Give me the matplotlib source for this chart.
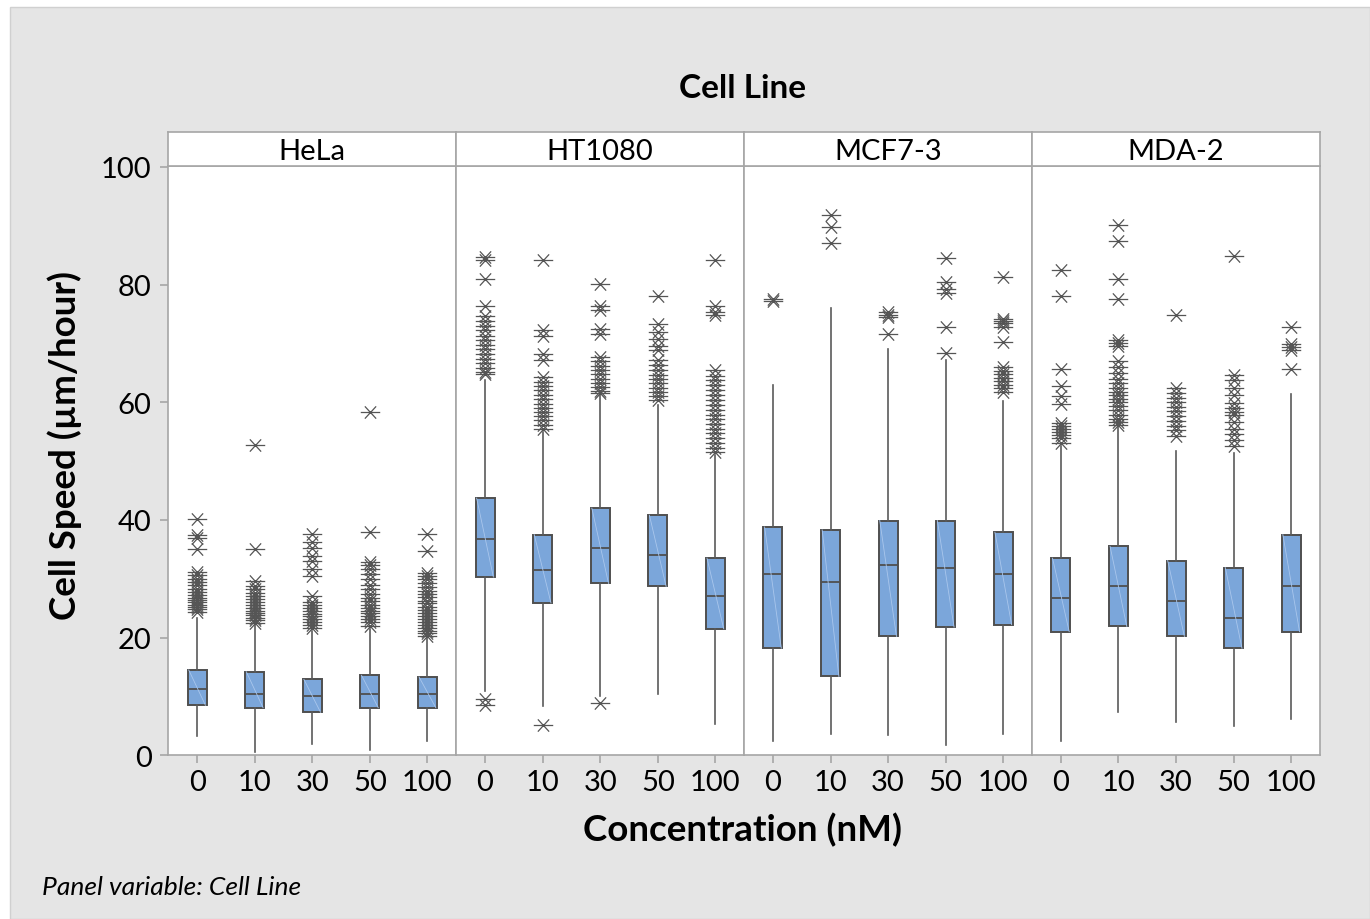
import matplotlib
matplotlib.use("Agg")
import matplotlib.pyplot as plt
from matplotlib.path import Path
from matplotlib.patches import Rectangle

plt.rcParams['font.family'] = ['Lato', 'DejaVu Sans']

# ---------------- data ----------------
cell_lines = ["HeLa", "HT1080", "MCF7-3", "MDA-2"]
concentrations = ["0", "10", "30", "50", "100"]

# per cell line, per concentration
q1 = [[8.5, 8.1, 7.3, 8.1, 8.1],
      [30.3, 25.9, 29.2, 28.7, 21.5],
      [18.2, 13.4, 20.2, 21.8, 22.2],
      [21.0, 21.9, 20.2, 18.2, 21.0]]
median = [[11.3, 10.5, 10.0, 10.5, 10.5],
          [36.8, 31.5, 35.2, 34.0, 27.1],
          [30.8, 29.5, 32.4, 31.9, 30.8],
          [26.7, 28.7, 26.2, 23.4, 28.7]]
q3 = [[14.5, 14.2, 12.9, 13.6, 13.3],
      [43.7, 37.5, 42.0, 40.8, 33.5],
      [38.8, 38.3, 39.9, 39.9, 37.9],
      [33.5, 35.5, 33.1, 31.9, 37.5]]
whisker_low = [[3.3, 0.5, 2.0, 0.9, 2.5],
               [10.9, 8.4, 10.1, 10.5, 5.3],
               [2.5, 3.7, 3.4, 1.7, 3.7],
               [2.4, 7.3, 5.7, 4.9, 6.1]]
whisker_high = [[23.4, 22.2, 21.1, 21.4, 20.0],
                [63.7, 55.0, 61.2, 59.5, 51.0],
                [63.0, 76.0, 69.1, 67.1, 60.2],
                [52.5, 55.8, 51.7, 51.4, 61.4]]

hela_outliers = [
    [40.2, 37.5, 37.0, 35.1, 31.1, 30.6, 30.0, 29.5, 28.9, 28.3, 27.8, 27.3, 26.8, 26.4, 26.0, 25.6, 25.2, 24.8, 24.3],
    [52.7, 35.1, 29.6, 28.8, 28.2, 27.6, 27.0, 26.5, 26.0, 25.5, 25.1, 24.6, 24.2, 23.8, 23.4, 23.0, 22.5],
    [37.6, 36.3, 35.2, 33.9, 33.1, 31.7, 30.4, 27.0, 26.1, 25.5, 25.0, 24.5, 24.0, 23.6, 23.1, 22.6, 22.2, 21.7],
    [58.3, 38.0, 32.9, 32.4, 31.6, 30.8, 29.9, 28.9, 28.2, 27.4, 26.7, 26.2, 25.6, 25.1, 24.6, 24.1, 23.6, 23.1, 22.6, 21.9],
    [37.6, 34.8, 31.0, 30.4, 29.9, 29.2, 28.6, 28.0, 27.4, 26.9, 26.3, 25.8, 25.2, 24.7, 24.2, 23.7, 23.2, 22.7, 22.2, 21.7, 21.2, 20.7, 20.3],
]
ht1080_outliers = [
    [84.6, 84.1, 80.9, 76.4, 74.6, 73.8, 73.0, 72.2, 71.3, 70.5, 69.8, 69.0, 68.2, 67.4, 66.6, 65.8, 65.2, 64.8, 9.6, 8.6],
    [84.2, 72.2, 71.3, 68.2, 67.1, 64.3, 63.5, 62.7, 62.0, 61.2, 60.5, 59.7, 59.0, 58.3, 57.6, 56.9, 56.2, 55.5, 5.2],
    [80.1, 76.4, 75.6, 72.5, 71.6, 67.7, 67.0, 66.2, 65.5, 64.8, 64.0, 63.3, 62.6, 61.9, 61.5, 8.9],
    [78.1, 73.3, 72.0, 70.8, 69.5, 68.8, 67.1, 66.3, 65.5, 64.7, 63.9, 63.2, 62.5, 61.8, 61.0, 60.3],
    [84.2, 76.4, 75.3, 74.9, 65.4, 64.5, 63.7, 62.9, 62.0, 61.2, 60.3, 59.5, 58.7, 57.9, 57.1, 56.3, 55.5, 54.7, 53.9, 53.1, 52.3, 51.6],
]
mcf7_outliers = [
    [77.5, 77.2],
    [91.9, 89.7, 87.0],
    [75.4, 74.9, 74.5, 71.6],
    [84.5, 80.4, 79.2, 78.5, 72.8, 68.4],
    [81.3, 74.2, 73.8, 73.4, 72.8, 70.3, 66.0, 65.3, 64.8, 64.2, 63.6, 63.0, 62.4, 61.7],
]
mda2_outliers = [
    [82.5, 78.0, 65.6, 62.8, 61.0, 59.7, 56.4, 55.9, 55.4, 54.9, 54.4, 53.9, 53.1],
    [90.1, 87.4, 80.9, 77.6, 70.6, 70.1, 69.6, 67.0, 66.0, 65.0, 64.0, 63.2, 62.5, 61.8, 61.2, 60.6, 60.0, 59.3, 58.6, 57.9, 57.2, 56.6, 56.1],
    [74.8, 62.4, 61.5, 60.8, 60.0, 59.2, 58.5, 57.6, 56.8, 56.0, 55.2, 54.3],
    [84.9, 64.6, 63.8, 62.5, 61.3, 59.8, 59.0, 58.4, 57.8, 56.6, 55.4, 54.6, 53.6, 52.5],
    [72.8, 69.9, 69.4, 68.8, 65.6],
]
outliers = [hela_outliers, ht1080_outliers, mcf7_outliers, mda2_outliers]

y_ticks = [0, 20, 40, 60, 80, 100]

# ---------------- style ----------------
W, H = 1370, 920
fig = plt.figure(figsize=(W / 100, H / 100), dpi=100)
fig.patch.set_facecolor('white')
fig.patches.append(Rectangle((10 / W, 0), 1 - 10 / W, 1 - 8 / H, transform=fig.transFigure,
                             facecolor='#e5e5e5', edgecolor='#d0d0d0', lw=1, zorder=-10))

box_fc = '#7ba6da'
edge_c = '#4f4f4f'
spine_c = '#a6a6a6'
ast = Path([(-1, 0), (1, 0), (-0.58, -0.63), (0.58, 0.63), (-0.58, 0.63), (0.58, -0.63)],
           [Path.MOVETO, Path.LINETO, Path.MOVETO, Path.LINETO, Path.MOVETO, Path.LINETO])

left_px, right_px = 168.3, 1320.0
top_px, bottom_px, strip_top_px = 166.7, 756.3, 133.3
pw = (right_px - left_px) / 4
box_w = 0.33

for i, name in enumerate(cell_lines):
    x0 = (left_px + i * pw) / W
    ax = fig.add_axes([x0, 1 - bottom_px / H, pw / W, (bottom_px - top_px) / H])
    ax.set_facecolor('white')
    positions = list(range(1, len(concentrations) + 1))
    stats = []
    for j, c in enumerate(concentrations):
        stats.append(dict(med=median[i][j], q1=q1[i][j], q3=q3[i][j],
                          whislo=whisker_low[i][j], whishi=whisker_high[i][j],
                          fliers=outliers[i][j], label=c))
    ax.bxp(stats, positions=positions, widths=box_w, patch_artist=True, showcaps=False,
           boxprops=dict(facecolor=box_fc, edgecolor=edge_c, linewidth=1.4),
           medianprops=dict(color=edge_c, linewidth=1.3),
           whiskerprops=dict(color='#5a5a5a', linewidth=1.2),
           flierprops=dict(marker=ast, markersize=14, markerfacecolor='none',
                           markeredgecolor='#555555', markeredgewidth=0.9, linestyle='none'))
    for j, p in enumerate(positions):
        ax.plot([p - box_w / 2 + 0.02, p + box_w / 2 - 0.02], [q3[i][j], q1[i][j]],
                color='#a9c6ec', lw=0.6, zorder=3)
    ax.set_xlim(0.5, 5.5)
    ax.set_ylim(0, 100.2)
    ax.set_xticks(positions)
    ax.set_xticklabels(concentrations)
    ax.set_yticks(y_ticks)
    for s in ax.spines.values():
        s.set_color(spine_c)
        s.set_linewidth(1.2)
    ax.tick_params(axis='x', direction='out', length=6, color=spine_c, width=1.2,
                   labelsize=21, pad=4)
    if i == 0:
        ax.tick_params(axis='y', direction='out', length=6, color=spine_c, width=1.2,
                       labelsize=21, pad=6)
    else:
        ax.tick_params(axis='y', left=False, labelleft=False)

    # strip
    sax = fig.add_axes([x0, 1 - top_px / H, pw / W, (top_px - strip_top_px) / H])
    sax.set_facecolor('white')
    sax.set_xticks([])
    sax.set_yticks([])
    for s in sax.spines.values():
        s.set_color(spine_c)
        s.set_linewidth(1.2)
    sax.text(0.5, 0.45, name, ha='center', va='center', fontsize=21, transform=sax.transAxes)

cx = (left_px + right_px) / 2 / W
fig.text(cx - 2 / W, 1 - 88 / H, 'Cell Line', ha='center', va='center', fontsize=24, fontweight='bold')
fig.text(cx - 2 / W, 1 - 830 / H, 'Concentration (nM)', ha='center', va='center', fontsize=26.5,
         fontweight='bold')
fig.text(65 / W, 1 - 445 / H, 'Cell Speed (µm/hour)', ha='center', va='center', fontsize=26.5,
         fontweight='bold', rotation=90)
fig.text(42 / W, 1 - 888 / H, 'Panel variable: Cell Line', ha='left', va='center', fontsize=19,
         fontstyle='italic')

fig.savefig('out.png', dpi=100, facecolor=fig.get_facecolor())
